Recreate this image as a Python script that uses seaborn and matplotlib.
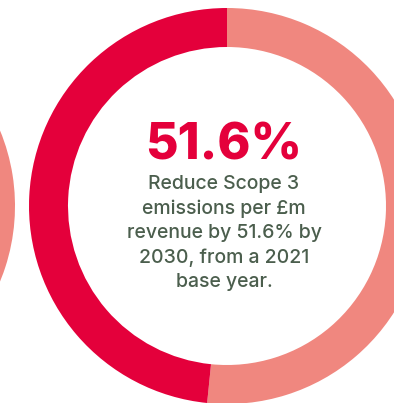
import matplotlib
matplotlib.use("Agg")
import matplotlib.pyplot as plt
import seaborn as sns

sns.set_theme(style="white")
plt.rcParams['font.family'] = ['Inter', 'DejaVu Sans']

# Data
labels = ["Remaining", "Reduction target"]
main_values = [51.6, 48.4]
left_values = [60.0, 40.0]
headline = "51.6%"
body = "Reduce Scope 3\nemissions per £m\nrevenue by 51.6% by\n2030, from a 2021\nbase year."

RED = "#e4003b"
PINK = "#f0877f"
TEXT = "#4b5e4d"

W, H = 394, 403
fig = plt.figure(figsize=(W / 100, H / 100), dpi=100)
ax = fig.add_axes([0, 0, 1, 1])

R = 198
ring = 39
cy = H - 206

ax.pie(main_values, colors=[PINK, RED], startangle=90, counterclock=False,
       center=(227, cy), radius=R, wedgeprops=dict(width=ring, linewidth=0),
       frame=True)
ax.pie(left_values, colors=[PINK, RED], startangle=90, counterclock=False,
       center=(-183, cy), radius=R, wedgeprops=dict(width=ring, linewidth=0),
       frame=True)
ax.set_xlim(0, W)
ax.set_ylim(0, H)
ax.set_aspect("equal")
ax.axis("off")

ax.text(224, H - 146, headline, ha="center", va="center", color=RED,
        fontsize=36, fontweight="heavy")
ax.text(224, H - 233, body, ha="center", va="center", color=TEXT,
        fontsize=14, fontweight=500, linespacing=1.43)

fig.savefig("out.png", dpi=100)
